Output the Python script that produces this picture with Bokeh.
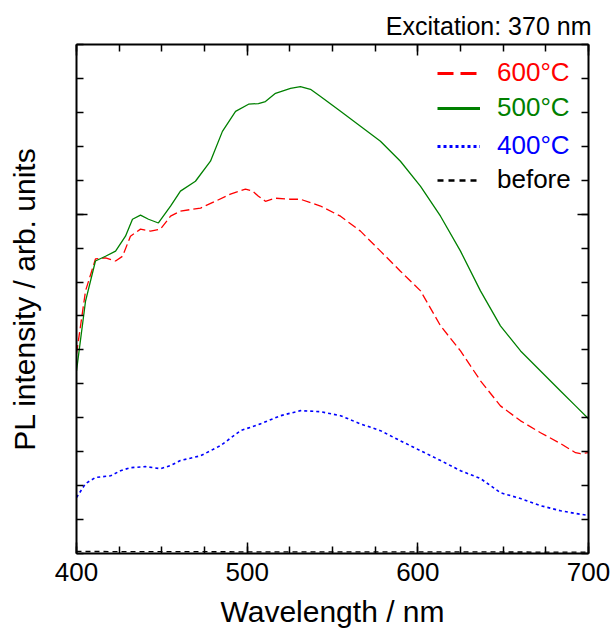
from bokeh.plotting import figure
from bokeh.models import (Range1d, FixedTicker, LinearAxis, Legend, LegendItem,
                          ColumnDataSource, Title)
from bokeh.embed import file_html
from bokeh.resources import INLINE

# ---- data ----
wl_600 = [400, 405.3, 411.1, 417.0, 422.9, 427.0, 431.6, 437.5, 443.4, 449.2, 455.1,
          460.9, 472.7, 481.4, 490.2, 499.0, 503.1, 506.6, 510.7, 516.6, 525.4, 531.2,
          543.0, 554.7, 566.4, 578.1, 589.8, 601.6, 613.3, 625.0, 636.7, 648.4, 660.2,
          671.9, 683.6, 692.4, 695.3, 700]
pl_600 = [5.88, 7.74, 8.68, 8.71, 8.62, 8.76, 9.35, 9.56, 9.50, 9.56, 9.94,
          10.09, 10.18, 10.38, 10.59, 10.74, 10.68, 10.53, 10.38, 10.47, 10.44, 10.44,
          10.24, 9.94, 9.50, 8.91, 8.32, 7.74, 6.71, 5.97, 5.09, 4.35, 3.91,
          3.56, 3.24, 2.97, 2.94, 2.97]

wl_500 = [400, 405.3, 411.1, 417.0, 422.9, 428.7, 432.8, 437.5, 442.2, 448.0, 455.1,
          460.9, 469.7, 478.5, 485.5, 493.2, 500.8, 506.6, 510.7, 516.6, 525.4, 531.2,
          537.1, 543.0, 554.7, 566.4, 578.1, 589.8, 601.6, 613.3, 625.0, 636.7, 648.4,
          660.2, 671.9, 683.6, 692.4, 700]
pl_500 = [5.38, 7.44, 8.62, 8.76, 8.91, 9.35, 9.85, 9.97, 9.85, 9.74, 10.24,
          10.68, 10.97, 11.56, 12.44, 13.03, 13.24, 13.26, 13.32, 13.56, 13.71, 13.76,
          13.68, 13.47, 13.03, 12.59, 12.15, 11.56, 10.82, 9.94, 8.91, 7.74, 6.71,
          5.97, 5.38, 4.79, 4.35, 3.97]

wl_400 = [400, 405.3, 411.1, 420.0, 425.8, 431.6, 440.4, 449.2, 455.1, 460.9, 472.7,
          484.4, 496.1, 507.8, 519.5, 531.2, 543.0, 554.7, 566.4, 578.1, 589.8, 601.6,
          613.3, 625.0, 636.7, 648.4, 660.2, 671.9, 683.6, 692.4, 700]
pl_400 = [1.65, 2.06, 2.24, 2.29, 2.44, 2.53, 2.56, 2.50, 2.59, 2.74, 2.88,
          3.18, 3.62, 3.82, 4.06, 4.21, 4.18, 4.06, 3.82, 3.62, 3.32, 3.03,
          2.74, 2.44, 2.21, 1.79, 1.62, 1.41, 1.26, 1.18, 1.12]

wl_before = [400, 500, 600, 700]
pl_before = [0.06, 0.05, 0.05, 0.04]

x_major = [400, 500, 600, 700]
x_minor = [400, 425, 450, 475, 500, 525, 550, 575, 600, 625, 650, 675, 700]
y_major = [10]
y_minor = list(range(0, 16))

series_labels = ["600°C", "500°C", "400°C", "before"]
series_colors = ["#ff0000", "#008000", "#0000ff", "#000000"]

FONT = "Liberation Sans"
NAN = float("nan")

p = figure(width=611, height=632, output_backend="svg", toolbar_location=None,
           x_range=Range1d(400, 700), y_range=Range1d(0, 15),
           min_border_left=76, min_border_right=23, min_border_top=44,
           min_border_bottom=79, x_axis_label="Wavelength / nm",
           y_axis_label="PL intensity / arb. units")
p.outline_line_color = None
p.xgrid.visible = False
p.ygrid.visible = False
p.background_fill_color = "white"
p.border_fill_color = "white"

# curves
p.line(wl_600, pl_600, line_color=series_colors[0], line_width=1.3, line_dash="9 4")
p.line(wl_500, pl_500, line_color=series_colors[1], line_width=1.3)
p.line(wl_400, pl_400, line_color=series_colors[2], line_width=1.6, line_dash="3 3")
p.line(wl_before, pl_before, line_color=series_colors[3], line_width=1.3, line_dash="5 4")

# axes styling
def style_axis(ax, ticks, minor, show_labels):
    ax.ticker = FixedTicker(ticks=ticks, minor_ticks=minor)
    ax.axis_line_width = 2
    ax.axis_line_color = "black"
    ax.major_tick_in = 11
    ax.major_tick_out = 0
    ax.minor_tick_in = 7
    ax.minor_tick_out = 0
    ax.major_tick_line_width = 1.5
    ax.minor_tick_line_width = 1.5
    ax.major_tick_line_color = "black"
    ax.minor_tick_line_color = "black"
    if show_labels:
        ax.major_label_text_font = FONT
        ax.major_label_text_font_size = "26px"
        ax.major_label_text_color = "black"
    else:
        ax.major_label_text_font_size = "0px"
        ax.major_label_text_alpha = 0
        ax.major_label_standoff = 0

xa = p.xaxis[0]
style_axis(xa, x_major, x_minor, True)
xa.major_label_standoff = 9
xa.axis_label_text_font = FONT
xa.axis_label_text_font_size = "30px"
xa.axis_label_text_font_style = "normal"
xa.axis_label_text_color = "black"
xa.axis_label_standoff = 11

ya = p.yaxis[0]
style_axis(ya, y_major, y_minor, False)
ya.axis_label_text_font = FONT
ya.axis_label_text_font_size = "30px"
ya.axis_label_text_font_style = "normal"
ya.axis_label_text_color = "black"
ya.axis_label_standoff = 36

top_ax = LinearAxis()
style_axis(top_ax, x_major, x_minor, False)
p.add_layout(top_ax, "above")
right_ax = LinearAxis()
style_axis(right_ax, y_major, y_minor, False)
p.add_layout(right_ax, "right")

# title (excitation note)
t = Title(text="Excitation: 370 nm", align="right", text_font=FONT,
          text_font_size="25px", text_font_style="normal", text_color="black",
          standoff=9, offset=-3)
p.add_layout(t, "above")

# legend: one legend per entry so each label gets its own colour
leg_src = ColumnDataSource(data=dict(x=[NAN], y=[NAN]))
leg_r = [
    p.line("x", "y", source=leg_src, line_color=series_colors[0], line_width=3, line_dash="16 7"),
    p.line("x", "y", source=leg_src, line_color=series_colors[1], line_width=3),
    p.line("x", "y", source=leg_src, line_color=series_colors[2], line_width=3, line_dash="3 3"),
    p.line("x", "y", source=leg_src, line_color=series_colors[3], line_width=2.5, line_dash="6 5"),
]
ys = [465, 430, 392, 358]
for r, lab, col, yy in zip(leg_r, series_labels, series_colors, ys):
    lg = Legend(items=[LegendItem(label=lab, renderers=[r])], location=(361, yy),
                padding=0, margin=0, glyph_width=43, glyph_height=30,
                label_height=30, label_standoff=17, spacing=0,
                border_line_color=None, background_fill_alpha=0,
                label_text_font=FONT, label_text_font_size="26px",
                label_text_color=col)
    p.add_layout(lg, "center")

open("out.html", "w").write(file_html(p, INLINE))
